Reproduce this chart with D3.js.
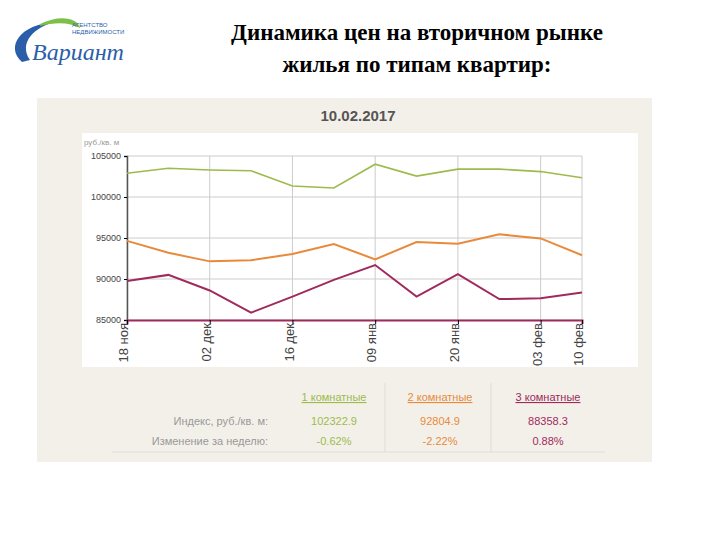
<!DOCTYPE html><html><head><meta charset="utf-8">
<script src="https://cdn.jsdelivr.net/npm/d3@7"></script>
<style>body{margin:0;background:#fff}</style></head><body>
<svg id="c" width="720" height="540"></svg>
<script>
const idx=[0,1,2,3,4,5,6,7,8,9,10,11];
const tickIdx=[0,2,4,6,8,10,11];
const tickLabels=["18 ноя","02 дек","16 дек","09 янв","20 янв","03 фев","10 фев"];
const yTicks=[85000,90000,95000,100000,105000];
const s1=[102900,103500,103300,103200,101350,101100,104000,102550,103400,103400,103100,102350];
const s2=[94650,93200,92150,92300,93050,94250,92400,94500,94300,95450,94950,92900];
const s3=[89750,90500,88600,85900,87850,89900,91700,87850,90600,87550,87650,88350];
const names=["1 комнатные","2 комнатные","3 комнатные"];
const colors=["#9dbb4c","#e88a3c","#a02a5c"];
const idxVals=["102322.9","92804.9","88358.3"];
const chg=["-0.62%","-2.22%","0.88%"];

const svg=d3.select("#c");
const lg=svg.append("g");
lg.append("path").attr("d","M22,62 C5,47 20,24 55,22 C35,27 18,42 30,60 Z").attr("fill","#2a5ea8");
lg.append("path").attr("d","M40,24 C60,14 78,18 80,28 C70,22 55,22 40,26 Z").attr("fill","#7cc04a");
lg.append("text").attr("x",72).attr("y",27).attr("font-size",6).attr("font-family","Liberation Sans").attr("fill","#2a5ea8").text("АГЕНТСТВО");
lg.append("text").attr("x",72).attr("y",34).attr("font-size",6).attr("font-family","Liberation Sans").attr("fill","#2a5ea8").text("НЕДВИЖИМОСТИ");
lg.append("text").attr("x",32).attr("y",60).attr("font-size",24).attr("font-style","italic").attr("font-family","Liberation Serif").attr("fill","#2a5ea8").text("Вариант");
svg.append("text").attr("x",417).attr("y",40).attr("text-anchor","middle").attr("font-family","Liberation Serif").attr("font-weight","bold").attr("font-size",23).text("Динамика цен на вторичном рынке");
svg.append("text").attr("x",417).attr("y",72).attr("text-anchor","middle").attr("font-family","Liberation Serif").attr("font-weight","bold").attr("font-size",23).text("жилья по типам квартир:");
svg.append("rect").attr("x",37).attr("y",98).attr("width",615).attr("height",364).attr("fill","#f3f0ea");
svg.append("text").attr("x",358).attr("y",121).attr("text-anchor","middle").attr("font-family","Liberation Sans").attr("font-weight","bold").attr("font-size",15).attr("fill","#555").text("10.02.2017");
svg.append("rect").attr("x",82).attr("y",133).attr("width",556).attr("height",234).attr("fill","#fff");
svg.append("text").attr("x",84).attr("y",145).attr("font-family","Liberation Sans").attr("font-size",8).attr("fill","#999").text("руб./кв. м");

const x=d3.scaleLinear().domain([0,11]).range([127,582]);
const y=d3.scaleLinear().domain([85000,105000]).range([320,156]);
const g=svg.append("g");
g.selectAll(".hg").data(yTicks).join("line").attr("x1",127).attr("x2",582).attr("y1",d=>y(d)).attr("y2",d=>y(d)).attr("stroke","#ccc");
g.selectAll(".vg").data(tickIdx).join("line").attr("x1",d=>x(d)).attr("x2",d=>x(d)).attr("y1",156).attr("y2",320).attr("stroke","#ccc");
const ya=g.append("g").attr("transform","translate(127,0)").call(d3.axisLeft(y).tickValues(yTicks).tickSize(3).tickFormat(d3.format("d")));
ya.selectAll("text").attr("font-family","Liberation Sans").attr("font-size",9).attr("fill","#444");
ya.select(".domain").attr("stroke","#555").attr("stroke-width",1.5);
const xa=g.append("g").attr("transform","translate(0,320)").call(d3.axisBottom(x).tickValues(tickIdx).tickSize(4).tickFormat((d,i)=>tickLabels[i]));
xa.select(".domain").attr("stroke","#a02a5c").attr("stroke-width",2);
xa.selectAll("text").attr("font-family","Liberation Sans").attr("font-size",13).attr("fill","#444")
 .attr("transform","rotate(-90)").attr("text-anchor","end").attr("x",-3).attr("y",-4).attr("dy","0.35em");
const line=d3.line().x((d,i)=>x(idx[i])).y(d=>y(d));
[s1,s2,s3].forEach((s,k)=>{
 g.append("path").datum(s).attr("d",line).attr("fill","none").attr("stroke",colors[k]).attr("stroke-width",k==0?1.6:2);
});
const cx=[334,440,548];
const t=svg.append("g").attr("font-family","Liberation Sans");
[385,491].forEach(xx=>t.append("line").attr("x1",xx).attr("x2",xx).attr("y1",383).attr("y2",452).attr("stroke","#ddd"));
t.append("line").attr("x1",112).attr("x2",605).attr("y1",452).attr("y2",452).attr("stroke","#ddd");
names.forEach((n,i)=>{
 t.append("text").attr("x",cx[i]).attr("y",401).attr("text-anchor","middle").attr("font-size",11).attr("fill",colors[i]).attr("text-decoration","underline").text(n);
 t.append("text").attr("x",cx[i]).attr("y",425).attr("text-anchor","middle").attr("font-size",11).attr("fill",colors[i]).text(idxVals[i]);
 t.append("text").attr("x",cx[i]).attr("y",445).attr("text-anchor","middle").attr("font-size",11).attr("fill",colors[i]).text(chg[i]);
});
t.append("text").attr("x",268).attr("y",425).attr("text-anchor","end").attr("font-size",11).attr("fill","#999").text("Индекс, руб./кв. м:");
t.append("text").attr("x",268).attr("y",445).attr("text-anchor","end").attr("font-size",11).attr("fill","#999").text("Изменение за неделю:");
</script></body></html>
